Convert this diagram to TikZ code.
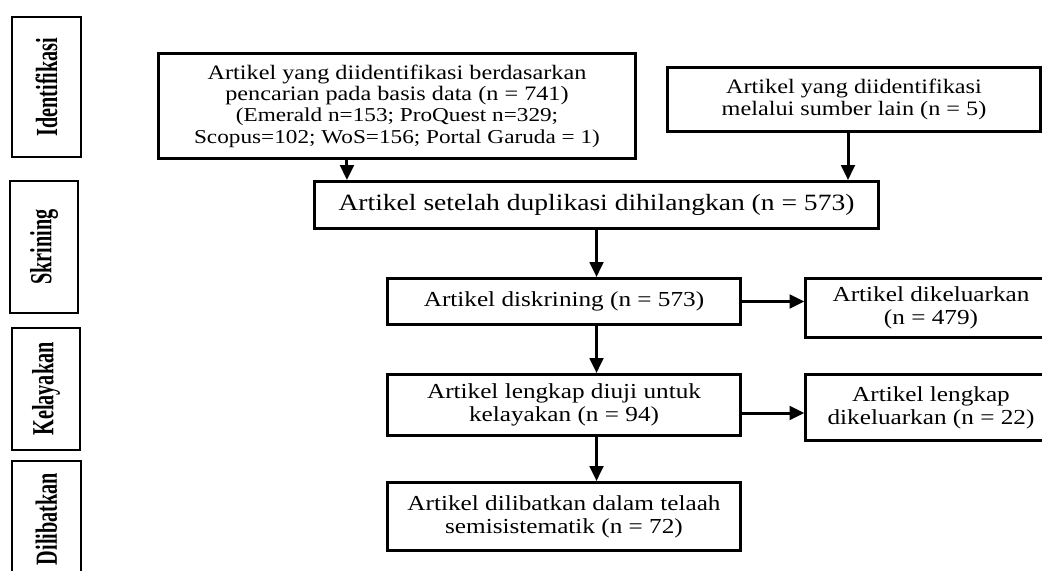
\documentclass[tikz,border=0pt]{standalone}
\usepackage{fontspec}
\setmainfont{Liberation Serif}[FakeStretch=1.18]
\newfontfamily\stagefont{Liberation Serif}[FakeStretch=0.66]
\usetikzlibrary{arrows.meta,calc}
\tikzset{
  base/.style={font=\fontsize{15.2}{16.4}\selectfont, align=center, inner sep=2pt, text=black},
  box/.style={base, rectangle, draw=black, fill=white, line width=0.075cm},
  stage/.style={rectangle, draw=black, line width=0.05cm, rotate=90, inner sep=0pt, font=\stagefont\bfseries\fontsize{21.8}{24}\selectfont},
  arr/.style={-{Triangle[length=0.37cm,width=0.34cm]}, line width=0.075cm, draw=black},
}

\begin{document}
\begin{tikzpicture}[x=0.025cm,y=-0.025cm]
  \useasboundingbox (0,0) rectangle (1042,571);
  \clip (0,0) rectangle (1042,571);
  % stages on the left
  \node[stage,minimum width=3.5cm,minimum height=1.725cm] (sIdent) at (46.5,87) {Identifikasi};
  \node[stage,minimum width=3.3cm,minimum height=1.7cm] (sSkrin) at (44,247) {Skrining};
  \node[stage,minimum width=3.05cm,minimum height=1.7cm] (sLayak) at (46,389) {Kelayakan};
  \node[stage,minimum width=2.9cm,minimum height=1.725cm] (sLibat) at (46.5,519) {Dilibatkan};
  % flow boxes
  \node[box,font=\fontsize{14.6}{15.2}\selectfont,minimum width=11.925cm,minimum height=2.625cm] (db) at (397,106) {Artikel yang diidentifikasi berdasarkan\\pencarian pada basis data (n = 741)\\\fontsize{14}{15}\selectfont(Emerald n=153; ProQuest n=329;\\\fontsize{14}{15}\selectfont Scopus=102; WoS=156; Portal Garuda = 1)};
  \node[box,font=\fontsize{14.6}{15.6}\selectfont,minimum width=9.325cm,minimum height=1.6cm] (lain) at (854,99.5) {Artikel yang diidentifikasi\\melalui sumber lain (n = 5)};
  \node[box,font=\fontsize{16.6}{18}\selectfont,minimum width=14.1cm,minimum height=1.175cm] (dup) at (596.5,205) {Artikel setelah duplikasi dihilangkan (n = 573)};
  \node[box,minimum width=8.825cm,minimum height=1.15cm] (skrin) at (564,301.5) {Artikel diskrining (n = 573)};
  \node[box,minimum width=6.25cm,minimum height=1.475cm] (keluar) at (931,308) {Artikel dikeluarkan\\(n = 479)};
  \node[box,minimum width=8.825cm,minimum height=1.525cm] (uji) at (564,405) {Artikel lengkap diuji untuk\\kelayakan (n = 94)};
  \node[box,minimum width=6.25cm,minimum height=1.65cm] (ujikeluar) at (931,407.5) {Artikel lengkap\\dikeluarkan (n = 22)};
  \node[box,minimum width=8.825cm,minimum height=1.7cm] (libat) at (564,516.5) {Artikel dilibatkan dalam telaah\\semisistematik (n = 72)};
  % connectors
  \draw[arr] ([xshift=-1.25cm]db.south) -- ([xshift=-1.25cm]db.south |- dup.north);
  \draw[arr] ([xshift=-0.15cm]lain.south) -- ([xshift=-0.15cm]lain.south |- dup.north);
  \draw[arr] (dup.south) -- (dup.south |- skrin.north);
  \draw[arr] (dup.south |- skrin.south) -- (dup.south |- uji.north);
  \draw[arr] (dup.south |- uji.south) -- (dup.south |- libat.north);
  \draw[arr] (skrin.east) -- (skrin.east -| keluar.west);
  \draw[arr] ([yshift=-0.2cm]uji.east) -- ([yshift=-0.2cm]uji.east -| ujikeluar.west);
\end{tikzpicture}
\end{document}
